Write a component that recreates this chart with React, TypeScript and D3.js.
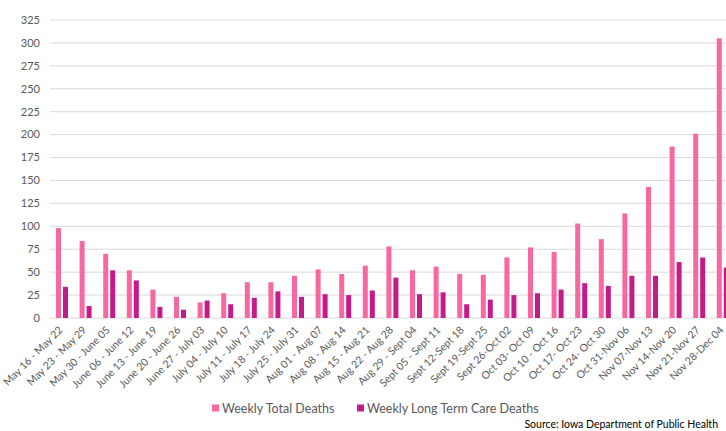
import React from "react";
import * as d3 from "d3";

const categories = [
  "May 16 - May 22", "May 23 - May 29", "May 30 - June 05", "June 06 - June 12",
  "June 13 - June 19", "June 20 - June 26", "June 27 - July 03", "July 04 - July 10",
  "July 11 - July 17", "July 18 - July 24", "July 25 - July 31", "Aug 01 - Aug 07",
  "Aug 08 - Aug 14", "Aug 15 - Aug 21", "Aug 22 - Aug 28", "Aug 29 - Sept 04",
  "Sept 05 - Sept 11", "Sept 12-Sept 18", "Sept 19-Sept 25", "Sept 26-Oct 02",
  "Oct 03- Oct 09", "Oct 10 - Oct 16", "Oct 17- Oct 23", "Oct 24- Oct 30",
  "Oct 31-Nov 06", "Nov 07-Nov 13", "Nov 14-Nov 20", "Nov 21-Nov 27", "Nov 28-Dec 04",
];

const totalDeaths = [98, 84, 70, 52, 31, 23, 17, 27, 39, 39, 46, 53, 48, 57, 78, 52, 56, 48, 47, 66, 77, 72, 103, 86, 114, 143, 187, 201, 305];
const ltcDeaths = [34, 13, 52, 41, 12, 9, 19, 15, 22, 29, 23, 26, 25, 30, 44, 26, 28, 15, 20, 25, 27, 31, 38, 35, 46, 46, 61, 66, 55];

const seriesNames = ["Weekly Total Deaths", "Weekly Long Term Care Deaths"];
const seriesColors = ["#F768A1", "#C51B8A"];
const yTicks = d3.range(0, 326, 25);

const W = 726;
const H = 431;
const FONT = "Lato, 'Open Sans', sans-serif";

export default function App() {
  const left = 50;
  const step = 23.6;
  const x0 = d3.scaleBand<string>().domain(categories).range([left, left + categories.length * step]).padding(0);
  const x1 = d3.scaleBand<string>().domain(seriesNames).range([6, 18]).paddingInner(2 / 7).paddingOuter(0);
  const y = d3.scaleLinear().domain([0, 325]).range([318, 20]);
  const data = [totalDeaths, ltcDeaths];

  return (
    <svg width={W} height={H} style={{ position: "absolute", left: 0, top: 0, background: "#fff" }} fontFamily={FONT}>
      {yTicks.map((t) => (
        <g key={t}>
          <line x1={left} x2={W} y1={y(t)} y2={y(t)} stroke="#d9d9d9" strokeWidth={1} />
          <text x={40} y={y(t)} dy="0.35em" textAnchor="end" fontSize={11} fill="#595959">{t}</text>
        </g>
      ))}
      {data.map((vals, si) =>
        vals.map((v, i) => (
          <rect
            key={`${si}-${i}`}
            x={(x0(categories[i]) as number) + (x1(seriesNames[si]) as number)}
            width={x1.bandwidth()}
            y={y(v)}
            height={y(0) - y(v)}
            fill={seriesColors[si]}
          />
        ))
      )}
      {categories.map((c) => {
        const cx = (x0(c) as number) + x0.bandwidth() / 2;
        return (
          <text
            key={c}
            transform={`translate(${cx - 1},${328}) rotate(-45)`}
            textAnchor="end"
            fontSize={10.5}
            fill="#595959"
            dy="0.35em"
          >
            {c}
          </text>
        );
      })}
      {seriesNames.map((s, i) => {
        const lx = i === 0 ? 212 : 357;
        return (
          <g key={s}>
            <rect x={lx} y={404.5} width={7} height={7} fill={seriesColors[i]} />
            <text x={lx + 10} y={412.5} fontSize={12.5} fill="#595959">{s}</text>
          </g>
        );
      })}
      <text x={718} y={428} textAnchor="end" fontSize={10.5} fill="#000">Source: Iowa Department of Public Health</text>
    </svg>
  );
}
